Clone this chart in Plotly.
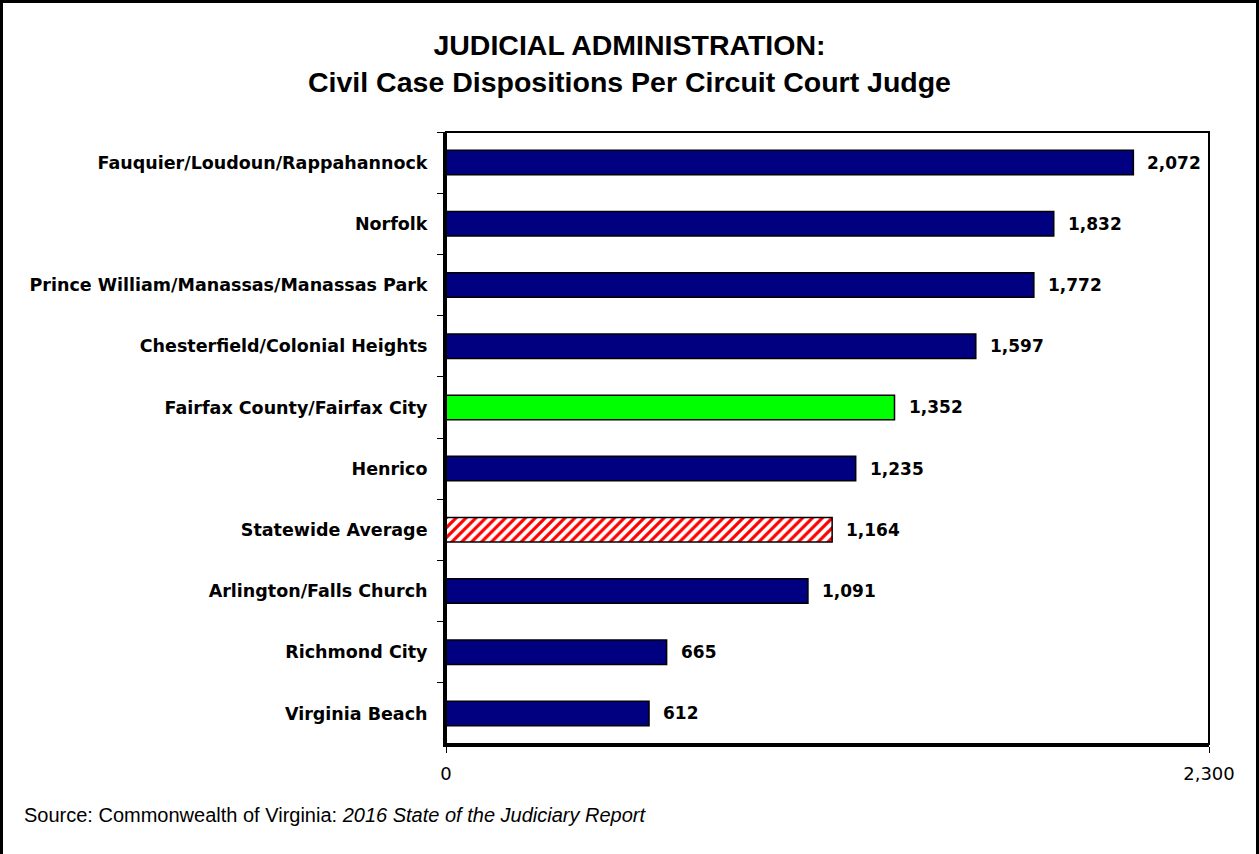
import plotly.graph_objects as go

categories = [
    "Fauquier/Loudoun/Rappahannock",
    "Norfolk",
    "Prince William/Manassas/Manassas Park",
    "Chesterfield/Colonial Heights",
    "Fairfax County/Fairfax City",
    "Henrico",
    "Statewide Average",
    "Arlington/Falls Church",
    "Richmond City",
    "Virginia Beach",
]
values = [2072, 1832, 1772, 1597, 1352, 1235, 1164, 1091, 665, 612]
x_tick_values = [0, 2300]
x_tick_labels = ["0", "2,300"]

highlight = "Fairfax County/Fairfax City"
average = "Statewide Average"

colors = []
shapes_pat = []
for c in categories:
    if c == highlight:
        colors.append("#00FF00")
        shapes_pat.append("")
    elif c == average:
        colors.append("#FF0000")
        shapes_pat.append("/")
    else:
        colors.append("#000080")
        shapes_pat.append("")

fig = go.Figure()
fig.add_trace(go.Bar(
    x=values,
    y=categories,
    orientation="h",
    width=0.4,
    marker=dict(
        color=colors,
        line=dict(color="black", width=1.5),
        pattern=dict(shape=shapes_pat, fgcolor="#FF0000", bgcolor="white",
                     size=7, solidity=0.45, fillmode="replace"),
    ),
    hoverinfo="skip",
    showlegend=False,
))

annotations = []
for c, v in zip(categories, values):
    annotations.append(dict(
        x=v, y=c, xref="x", yref="y", text=f"{v:,}", showarrow=False,
        xanchor="left", yanchor="middle", xshift=12,
        font=dict(family="DejaVu Sans", size=17, color="black", weight="bold"),
    ))

annotations.append(dict(
    text="<b>JUDICIAL ADMINISTRATION:</b><br><b>Civil Case Dispositions Per Circuit Court Judge</b>",
    xref="paper", yref="paper", x=(629.5 - 446) / 763, y=(744 - 27) / 612,
    xanchor="center", yanchor="top", showarrow=False, align="center",
    font=dict(family="Liberation Sans", size=28.5, color="black", lineposition="none"),
))
annotations.append(dict(
    text="Source: Commonwealth of Virginia: <i>2016 State of the Judiciary Report</i>",
    xref="paper", yref="paper", x=(22 - 446) / 763, y=(744 - 815) / 612,
    xanchor="left", yanchor="middle", showarrow=False, align="left",
    font=dict(family="Liberation Sans", size=20, color="black"),
))

fig.update_layout(
    width=1259, height=854,
    margin=dict(l=446, r=50, t=132, b=110),
    paper_bgcolor="white", plot_bgcolor="white",
    annotations=annotations,
    shapes=[
        dict(type="rect", xref="paper", yref="paper", x0=0, x1=1, y0=0, y1=1,
             line=dict(color="black", width=2)),
        dict(type="path", xref="paper", yref="paper",
             path="M {xl} {yb} L {xl} {yt} L {xr} {yt} L {xr} {yb}".format(
                 xl=(1.5 - 446) / 763, xr=(1257.5 - 446) / 763,
                 yt=(744 - 1.5) / 612, yb=(744 - 870) / 612),
             line=dict(color="black", width=3)),
    ],
    bargap=0.6,
)

fig.update_xaxes(
    range=[0, 2300], tickvals=x_tick_values, ticktext=x_tick_labels,
    showgrid=False, zeroline=False, showline=True, linecolor="black", linewidth=3,
    ticks="outside", ticklen=6, tickcolor="black", tickwidth=1,
    ticklabelstandoff=5,
    tickfont=dict(family="DejaVu Sans", size=18, color="black"),
)
fig.update_yaxes(
    type="category", categoryorder="array", categoryarray=categories,
    autorange="reversed",
    showgrid=False, zeroline=False, showline=True, linecolor="black", linewidth=3,
    ticks="outside", tickson="boundaries", ticklen=6, tickcolor="black", tickwidth=1,
    ticklabelstandoff=12,
    tickfont=dict(family="DejaVu Sans", size=17.5, color="black", weight="bold"),
)

fig.write_html(
    "out.html",
    config={"displayModeBar": False},
    post_script="document.body.style.margin='0';document.body.style.overflow='hidden';",
)
